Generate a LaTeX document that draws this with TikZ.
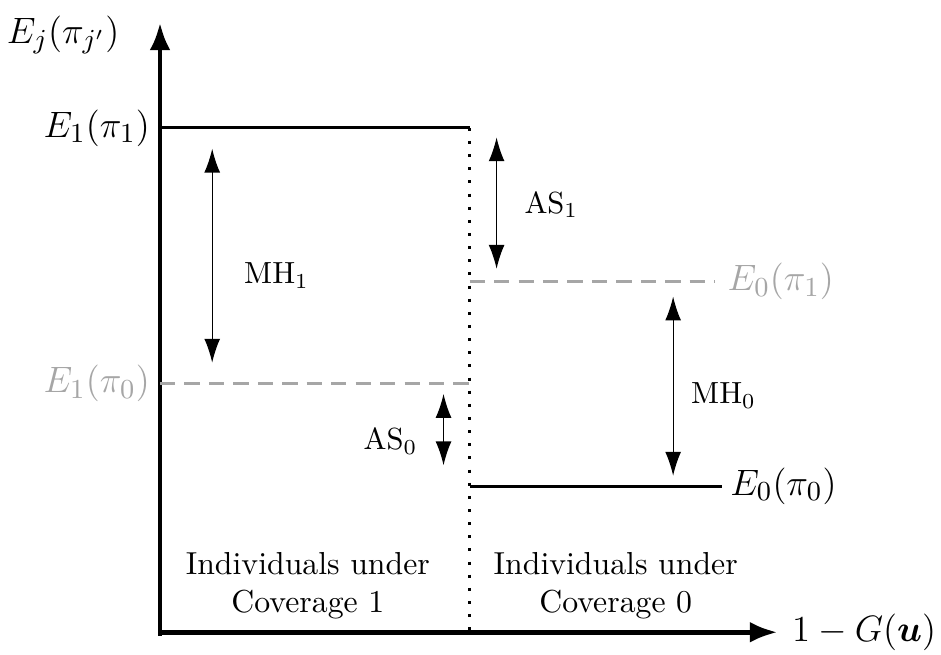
\documentclass[tikz,border=0pt]{standalone}
\usepackage{amsmath}
\usepackage{amssymb}
\usepackage{bm}
\usepackage{tikz}
\usetikzlibrary{arrows.meta}

\begin{document}
\begin{tikzpicture}[>={Latex[length=7.8pt,width=5.2pt]}, thin]
		\useasboundingbox (-1.84,-0.26) rectangle (8.98,7.27);
		\tikzset{level/.style={line width=1pt},
			cf/.style={level, black!35, dash pattern=on 5pt off 3pt},
			lbl/.style={font=\fontsize{12.8}{15}\selectfont, inner sep=0pt},
			grp/.style={align=center, font=\fontsize{10.4}{12.4}\selectfont},
			axis/.style={line width=1.6pt, -{Latex[length=9pt,width=6.8pt]}}}

		% axes
		\coordinate (o) at (0,0);
		\coordinate (ytop) at (0,7.01);
		\coordinate (xend) at (7.10,0);
		\draw[axis] (0,-0.04) -- (ytop);
		\draw[axis] (-0.02,0) -- (xend);
		\node[lbl, anchor=east] (ylab) at (-0.46,6.87) {$E_j(\pi_{j'})$};
		\node[lbl, anchor=west] (xlab) at (7.26,0) {$1-G(\bm{u})$};

		% levels
		\coordinate (a1) at (0,5.8);    \coordinate (b1) at (3.56,5.8);
		\coordinate (a2) at (3.56,4.03); \coordinate (b2) at (6.38,4.03);
		\coordinate (a3) at (0,2.86);   \coordinate (b3) at (3.56,2.86);
		\coordinate (a4) at (3.56,1.68); \coordinate (b4) at (6.46,1.68);
		\coordinate (cut) at (3.56,0);

		\draw[level] (a1) -- (b1);
		\draw[cf] (a2) -- (b2);
		\draw[cf] (a3) -- (b3);
		\draw[level] (a4) -- (b4);
		\draw[line width=1pt, dash pattern=on 1pt off 3.3pt] (b1) -- (cut);

		\node[lbl, anchor=east] (e11) at (-0.11,5.8) {$E_1(\pi_1)$};
		\node[lbl, anchor=east, black!35] (e10) at (-0.11,2.86) {$E_1(\pi_0)$};
		\node[lbl, anchor=west, black!35] (e01) at (6.52,4.03) {$E_0(\pi_1)$};
		\node[lbl, anchor=west] (e00) at (6.55,1.68) {$E_0(\pi_0)$};

		% gaps
		\coordinate (m1t) at (0.60,5.56); \coordinate (m1b) at (0.60,3.10);
		\coordinate (s1t) at (3.87,5.69); \coordinate (s1b) at (3.87,4.18);
		\coordinate (s0t) at (3.26,2.74); \coordinate (s0b) at (3.26,1.92);
		\coordinate (m0t) at (5.90,3.86); \coordinate (m0b) at (5.90,1.80);

		\draw[<->] (m1t) -- (m1b);
		\draw[<->] (s1t) -- (s1b);
		\draw[<->] (s0t) -- (s0b);
		\draw[<->] (m0t) -- (m0b);

		\node (mh1) at (1.34,4.10) {MH$_1$};
		\node (as1) at (4.50,4.92) {AS$_1$};
		\node (as0) at (2.65,2.20) {AS$_0$};
		\node (mh0) at (6.48,2.72) {MH$_0$};

		% groups
		\node[grp] (g1) at (1.70,0.54) {Individuals under\\Coverage 1};
		\node[grp] (g0) at (5.24,0.54) {Individuals under\\Coverage 0};
	\end{tikzpicture}
\end{document}
